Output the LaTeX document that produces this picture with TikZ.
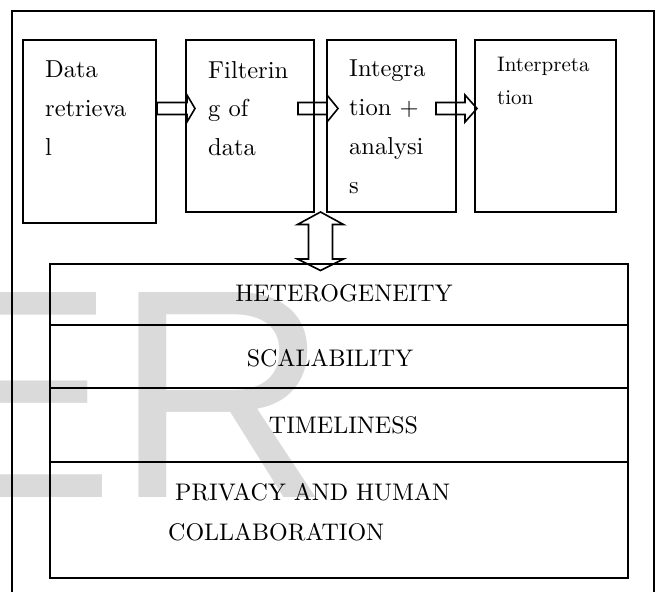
\documentclass[tikz,border=0pt]{standalone}
\usepackage{fontspec}
\setmainfont{lmroman10-regular}[Extension=.otf]
\newfontfamily\wmfont{Liberation Sans}
\usetikzlibrary{calc}
\definecolor{wmgray}{RGB}{218,218,218}
\tikzset{
  box/.style={draw, line width=1.8pt, outer sep=0pt, inner sep=0pt, anchor=north west},
  btxt/.style={anchor=base west, align=left, inner sep=0pt, font=\fontsize{24.5}{38.7}\selectfont},
  itxt/.style={anchor=base west, align=left, inner sep=0pt, font=\fontsize{21}{33}\selectfont},
  ltxt/.style={inner sep=0pt, font=\fontsize{24}{40}\selectfont},
  arrowline/.style={draw, line width=1.6pt, line join=miter},
  divider/.style={draw, line width=1.5pt},
  frame/.style={draw, line width=2pt},
  pics/rarrow/.style 2 args={code={
    \path[arrowline] (0,-6) -- (#1,-6) -- (#1,-13.5) -- ({#1+#2},0) -- (#1,13.5) -- (#1,6) -- (0,6) -- cycle;
  }}
}
\begin{document}
\begin{tikzpicture}[x=1pt,y=-1pt]
\useasboundingbox (0,0) rectangle (660,591);
\clip (0,0) rectangle (660,591);
% watermark
\node[anchor=base west, inner sep=0pt, text=wmgray, font=\wmfont\fontsize{298}{298}\selectfont] (wm) at (-84,497) {ER};
% outer frame
\coordinate (fbl) at (12,600);
\coordinate (ftl) at (12,11);
\coordinate (ftr) at (654,11);
\coordinate (fbr) at (654,600);
\path[frame] (fbl) -- (ftl) -- (ftr) -- (fbr);
% top boxes
\node[box, minimum width=133pt, minimum height=183pt] (b1) at (23,40) {};
\node[box, minimum width=128pt, minimum height=172pt] (b2) at (186,40) {};
\node[box, minimum width=129pt, minimum height=172pt] (b3) at (327,40) {};
\node[box, minimum width=141pt, minimum height=172pt] (b4) at (475,40) {};
\node[btxt] (t1) at (45,155) {Data\\retrieva\\l};
\node[btxt] (t2) at (208,155.5) {Filterin\\g of\\data};
\node[btxt] (t3) at (349,193) {Integra\\tion +\\analysi\\s};
\node[itxt] (t4) at (497,105) {Interpreta\\tion};
% block arrows
\coordinate (ay) at (0,108.5);
\pic at ($(b1.east |- ay)+(1,0)$) {rarrow={30}{8}};
\pic at ($(b2.east |- ay)+(-16,0)$) {rarrow={29}{11}};
\pic at ($(b3.east |- ay)+(-20,0)$) {rarrow={29}{12}};
% list box
\node[box, minimum width=578pt, minimum height=314pt] (lst) at (50,264) {};
\path[divider] (lst.west |- 0,325) -- (lst.east |- 0,325);
\path[divider] (lst.west |- 0,388) -- (lst.east |- 0,388);
\path[divider] (lst.west |- 0,462) -- (lst.east |- 0,462);
\node[ltxt, anchor=base] (h1) at (344,301.7) {HETEROGENEITY};
\node[ltxt, anchor=base] (h2) at (330,366.7) {SCALABILITY};
\node[ltxt, anchor=base] (h3) at (343.5,433.3) {TIMELINESS};
\node[ltxt, anchor=base west] (h4) at (175,500) {PRIVACY AND HUMAN};
\node[ltxt, anchor=base west] (h5) at (168,540) {COLLABORATION};
% double arrow between rows and list
\coordinate (dt) at ($(b2.south east)!0.5!(b3.south west)$);
\path[arrowline] (dt) -- ($(dt)+(23,12.5)$) -- ($(dt)+(12,12.5)$) -- ($(dt)+(12,47)$) -- ($(dt)+(23,47)$)
  -- ($(dt)+(0,58.5)$) -- ($(dt)+(-23,47)$) -- ($(dt)+(-12,47)$) -- ($(dt)+(-12,12.5)$) -- ($(dt)+(-23,12.5)$) -- cycle;
\end{tikzpicture}
\end{document}
